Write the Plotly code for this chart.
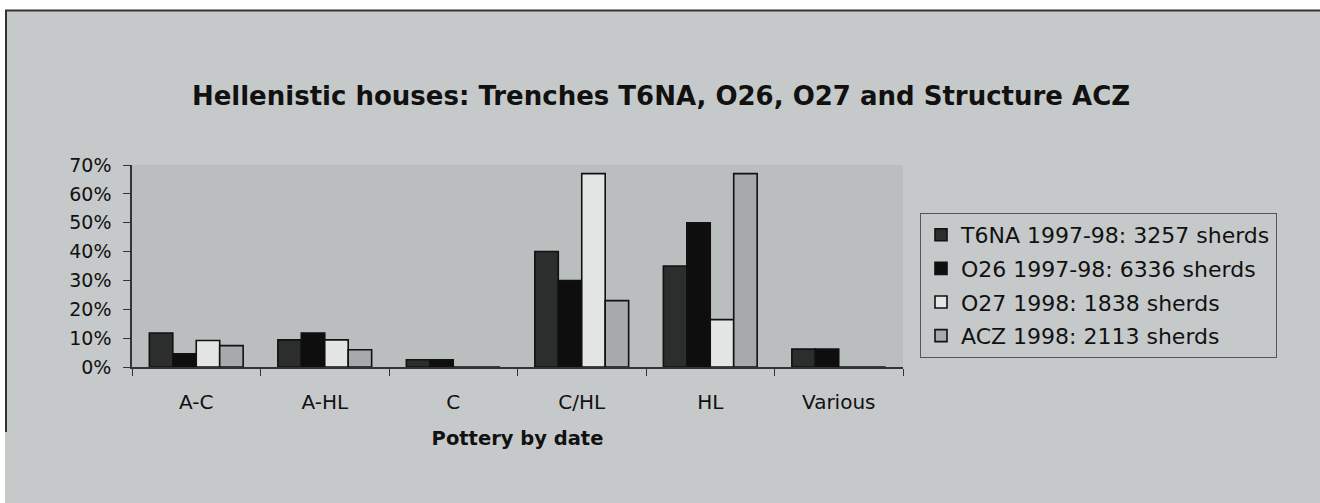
import plotly.graph_objects as go

categories = ["A-C", "A-HL", "C", "C/HL", "HL", "Various"]
series_names = [
    "T6NA 1997-98: 3257 sherds",
    "O26 1997-98: 6336 sherds",
    "O27 1998: 1838 sherds",
    "ACZ 1998: 2113 sherds",
]
t6na = [0.118, 0.094, 0.025, 0.40, 0.35, 0.062]
o26 = [0.046, 0.118, 0.025, 0.30, 0.50, 0.062]
o27 = [0.092, 0.094, 0.0, 0.67, 0.164, 0.0]
acz = [0.074, 0.060, 0.0, 0.23, 0.67, 0.0]
y_ticks = [0, 0.1, 0.2, 0.3, 0.4, 0.5, 0.6, 0.7]

colors = ["#2c2d2d", "#0e0e0e", "#e4e6e6", "#a7a9aa"]
FONT = "DejaVu Sans, Verdana, sans-serif"

W, H = 1320, 503
L, R, T, B = 132, 417, 165, 136
PW, PH = W - L - R, H - T - B

fig = go.Figure()
for i, (name, vals) in enumerate(zip(series_names, [t6na, o26, o27, acz])):
    fig.add_trace(go.Bar(
        x=categories, y=vals, name=name, legendgroup=f"g{i}",
        marker=dict(color=colors[i], line=dict(color="#111111", width=1.6)),
    ))

fig.update_layout(
    width=W, height=H,
    margin=dict(l=L, r=R, t=T, b=B),
    paper_bgcolor="#c6c9ca",
    plot_bgcolor="#babebf",
    barmode="group", bargap=0.27, bargroupgap=0,
    font=dict(family=FONT, color="#111111", size=20),
    title=dict(
        text="<b>Hellenistic houses: Trenches T6NA, O26, O27 and Structure ACZ</b>",
        x=661 / W, xref="container", xanchor="center",
        y=1 - 96 / H, yref="container", yanchor="middle",
        font=dict(size=26, family=FONT, color="#111111"),
    ),
    legend=dict(
        x=(920 - L) / PW, xanchor="left",
        y=(H - B - 213) / PH, yanchor="top",
        bgcolor="#c6c9ca", bordercolor="#555555", borderwidth=1,
        font=dict(size=22, family=FONT, color="#111111"),
        tracegroupgap=2,
    ),
    showlegend=True,
)
fig.update_xaxes(
    showline=True, linecolor="#333333", linewidth=1.5,
    ticks="outside", tickson="boundaries", ticklen=7, tickcolor="#333333",
    ticklabelstandoff=16,
    showgrid=False,
    tickfont=dict(size=20),
    title=dict(text="<b>Pottery by date</b>", font=dict(size=19.5, family=FONT), standoff=19),
)
fig.update_yaxes(
    range=[0, 0.7], tickvals=y_ticks, tickformat=".0%",
    showline=True, linecolor="#333333", linewidth=1.5,
    ticks="outside", ticklen=7, tickcolor="#333333",
    ticklabelstandoff=8,
    tickfont=dict(size=19),
    showgrid=False, zeroline=False,
)
# white strip at top and frame lines
fig.add_shape(type="rect", xref="paper", yref="paper",
              x0=-L / PW, x1=(W - L) / PW, y0=(H - B - 10) / PH, y1=(H - B) / PH,
              fillcolor="white", line=dict(width=0), layer="below")
fig.add_shape(type="rect", xref="paper", yref="paper",
              x0=-L / PW, x1=(5 - L) / PW, y0=(H - B - 10) / PH, y1=-B / PH,
              fillcolor="white", line=dict(width=0), layer="below")
fig.add_shape(type="line", xref="paper", yref="paper",
              x0=(5 - L) / PW, x1=(W - L) / PW, y0=(H - B - 10.5) / PH, y1=(H - B - 10.5) / PH,
              line=dict(color="#333333", width=2))
fig.add_shape(type="line", xref="paper", yref="paper",
              x0=(6 - L) / PW, x1=(6 - L) / PW, y0=(H - B - 10) / PH, y1=(H - B - 432) / PH,
              line=dict(color="#333333", width=2))

fig.write_html(
    "out.html",
    config={"displayModeBar": False},
    post_script="document.body.style.margin='0';document.body.style.overflow='hidden';",
)
